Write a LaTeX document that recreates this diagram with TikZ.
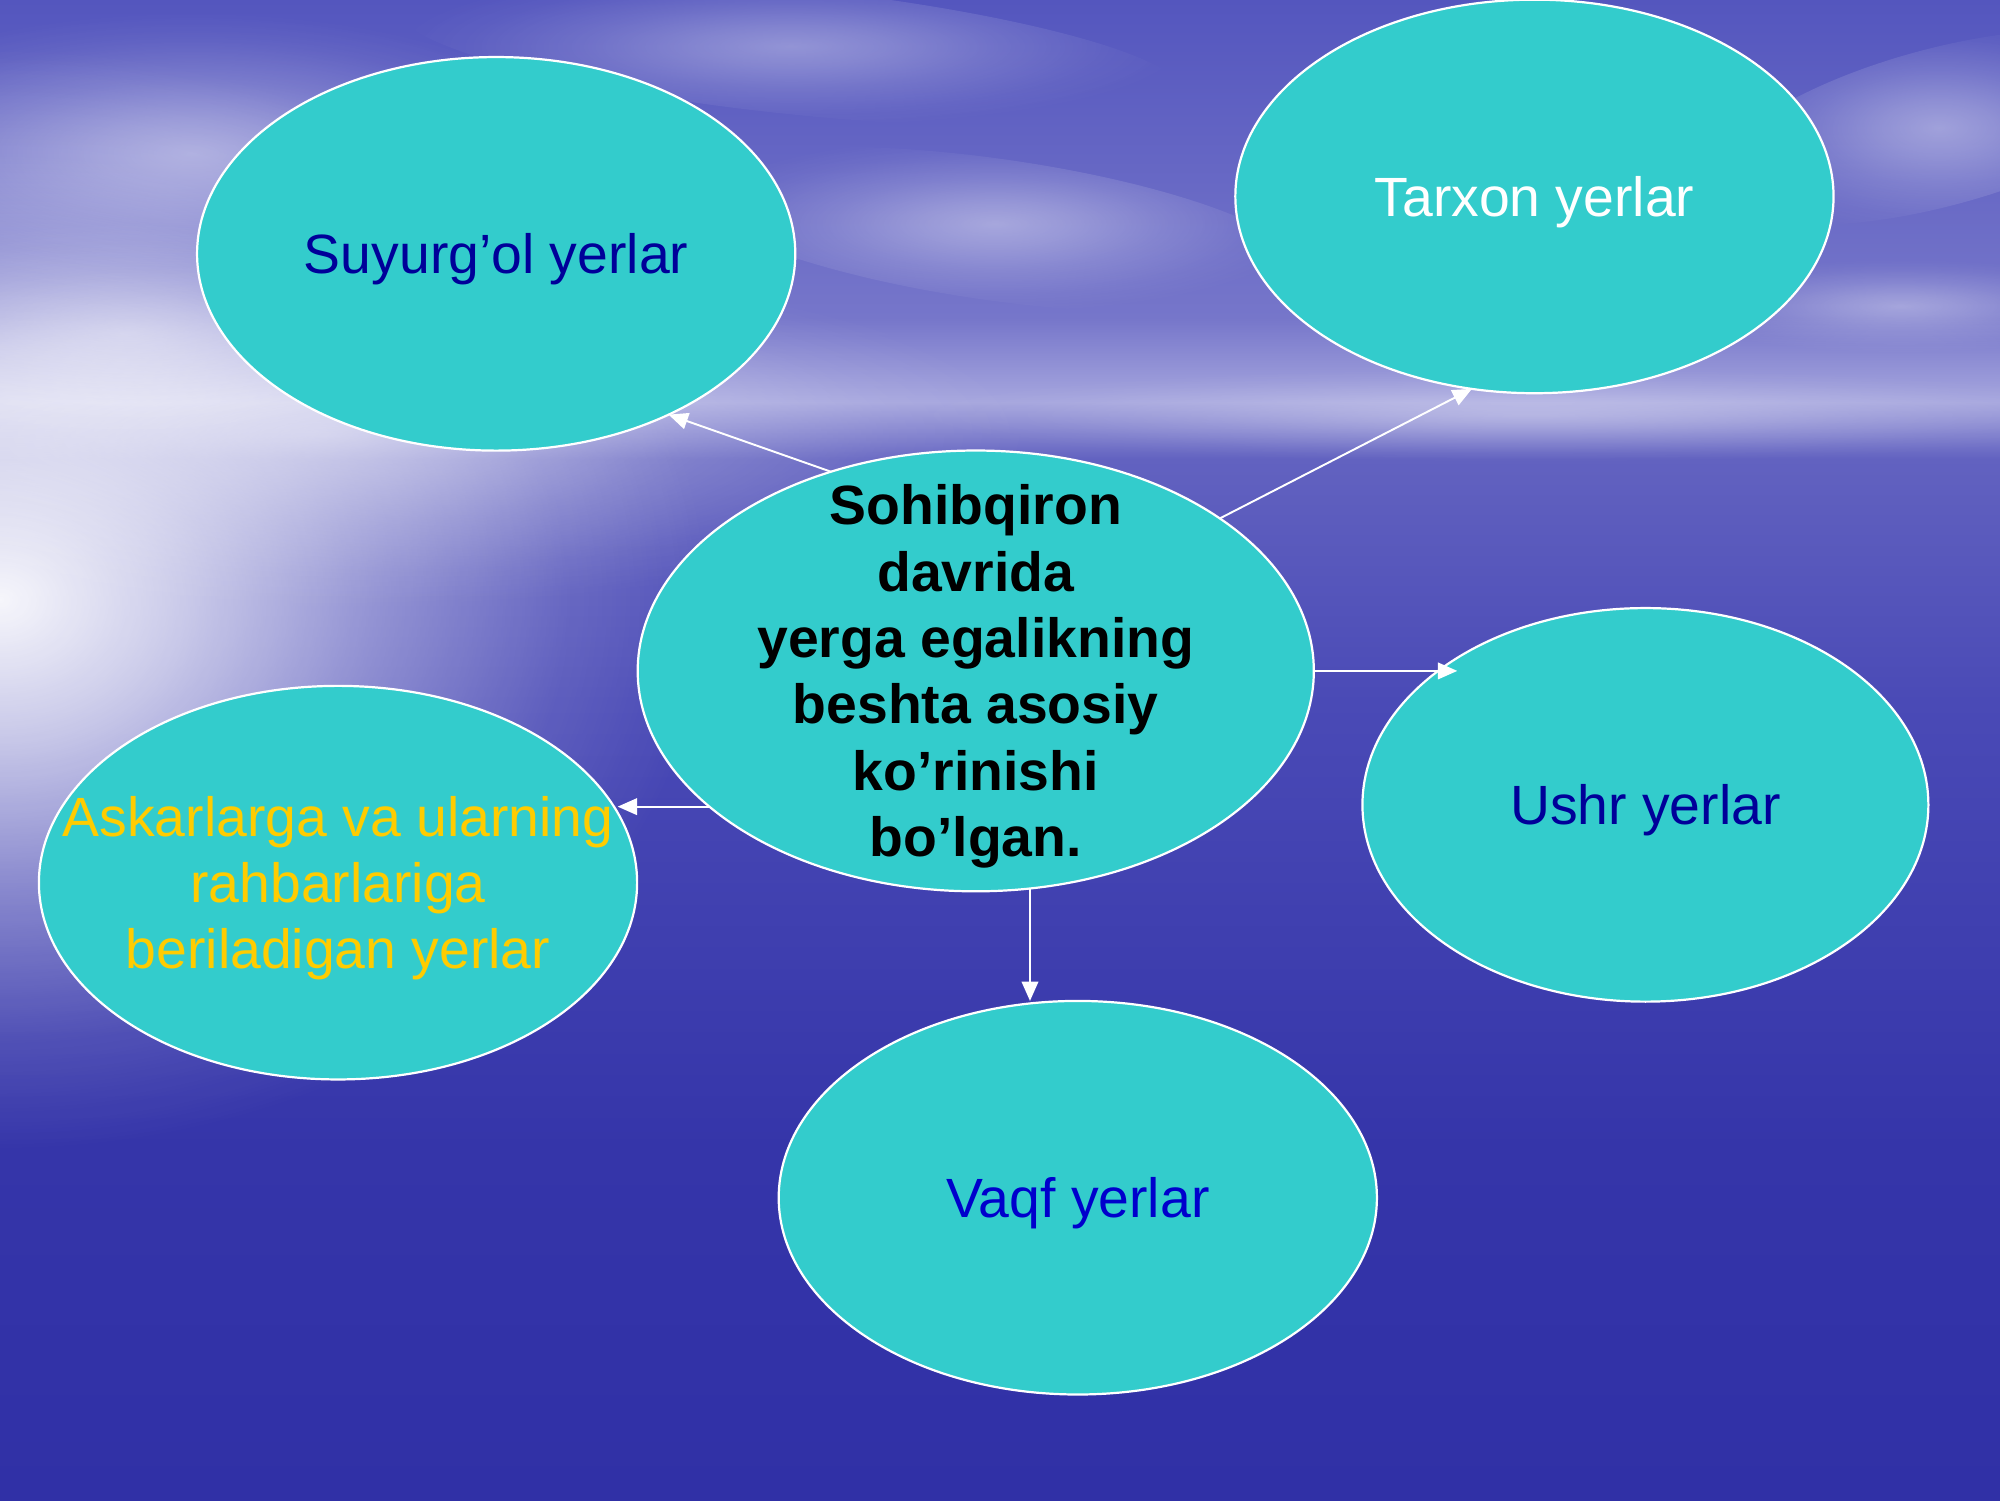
\documentclass[tikz,border=0pt]{standalone}
\usepackage{fontspec}
\setmainfont{Liberation Sans}
\usetikzlibrary{shapes.geometric, arrows.meta, fadings}

\definecolor{dengiz}{HTML}{33CCCC}
\definecolor{tim}{HTML}{000099}
\definecolor{kok}{HTML}{0000CC}
\definecolor{sariq}{HTML}{FFCC00}
\definecolor{fa}{HTML}{5456BE}
\definecolor{fb}{HTML}{7676CA}
\definecolor{fc}{HTML}{A6A6DE}
\definecolor{fd}{HTML}{8A8AD2}
\definecolor{fe}{HTML}{6262C0}
\definecolor{ff}{HTML}{4A4AB6}
\definecolor{fg}{HTML}{3535A9}
\definecolor{fh}{HTML}{3030A6}

\pgfdeclareverticalshading{fon}{100bp}{color(0bp)=(fh); color(25bp)=(fh); color(36.7bp)=(fg);
  color(51.6bp)=(ff); color(59.7bp)=(fe); color(60.8bp)=(fd); color(61.6bp)=(fc);
  color(64.4bp)=(fb); color(75bp)=(fa); color(100bp)=(fa)}
\pgfdeclareradialshading{nurshade}{\pgfpointorigin}{color(0bp)=(white); color(6bp)=(white!75!black);
  color(13bp)=(white!40!black); color(20bp)=(white!12!black); color(25bp)=(black); color(50bp)=(black)}
\pgfdeclarefading{nur}{\pgfuseshading{nurshade}}

\begin{document}
\begin{tikzpicture}[x=0.016199cm, y=-0.016199cm,
    yer/.style={ellipse, draw=white, line width=0.8pt, fill=dengiz, minimum width=7.6cm, minimum height=5cm, inner sep=0pt, outer sep=0pt},
    strelka/.style={draw=white, line width=0.7pt, -{Triangle[length=7pt, width=6pt]}},
    every label/.style={align=center, yshift=-2pt, font=\fontsize{20}{24}\selectfont}]
    \useasboundingbox (0,0) rectangle (1568,1176);
    \shade[shading=fon] (0,0) rectangle (1568,1176);

    % osmon va quyosh
    \fill[white, fill opacity=.95, path fading=nur] (0,470) ellipse [x radius=9cm, y radius=7cm];
    \fill[white, fill opacity=.5, path fading=nur] (250,340) ellipse [x radius=9cm, y radius=2.2cm];
    \fill[white, fill opacity=.45, path fading=nur] (150,120) ellipse [x radius=5cm, y radius=1.8cm];
    \fill[white, fill opacity=.4, path fading=nur] (100,260) ellipse [x radius=4cm, y radius=1.4cm];
    \fill[white, fill opacity=.4, path fading=nur, rotate around={-8:(780,180)}] (780,180) ellipse [x radius=4cm, y radius=.9cm];
    \fill[white, fill opacity=.35, path fading=nur, rotate around={-6:(620,40)}] (620,40) ellipse [x radius=5cm, y radius=.8cm];
    \fill[white, fill opacity=.4, path fading=nur, rotate around={15:(1520,100)}] (1520,100) ellipse [x radius=3cm, y radius=1cm];
    \fill[white, fill opacity=.35, path fading=nur] (1490,240) ellipse [x radius=3cm, y radius=.6cm];
    \fill[white, fill opacity=.3, path fading=nur] (1200,325) ellipse [x radius=8cm, y radius=.6cm];

    \node[yer, label={[text=tim]center:Suyurg’ol yerlar}] (suyurgol) at (389,199) {};
    \node[yer, label={[text=white]center:Tarxon yerlar}] (tarxon) at (1203,154) {};
    \node[yer, minimum width=8.59cm, minimum height=5.6cm,
      label={[font=\fontsize{20}{24}\selectfont\bfseries]center:Sohibqiron\\davrida\\yerga egalikning\\beshta asosiy\\ko’rinishi\\bo’lgan.}] (markaz) at (765,526) {};
    \node[yer, minimum width=7.19cm, label={[text=tim]center:Ushr yerlar}] (ushr) at (1290,631) {};
    \node[yer, label={[text=sariq]center:Askarlarga va ularning\\rahbarlariga\\beriladigan yerlar}] (askar) at (265,692) {};
    \node[yer, label={[text=kok]center:Vaqf yerlar}] (vaqf) at (845,939) {};

    \draw[strelka] (markaz.126) -- (suyurgol.-43); % markazdan chapga yuqori
    \draw[strelka] (markaz.32) -- (tarxon.-108); % o'ngga yuqori
    \draw[strelka] (markaz.east) -- (markaz.east -| ushr.142); % o'ngga
    \draw[strelka] (markaz.207) -- (markaz.207 -| askar.14); % chapga
    \draw[strelka] (markaz.-76) -- (markaz.-76 |- vaqf.north); % pastga
\end{tikzpicture}
\end{document}
